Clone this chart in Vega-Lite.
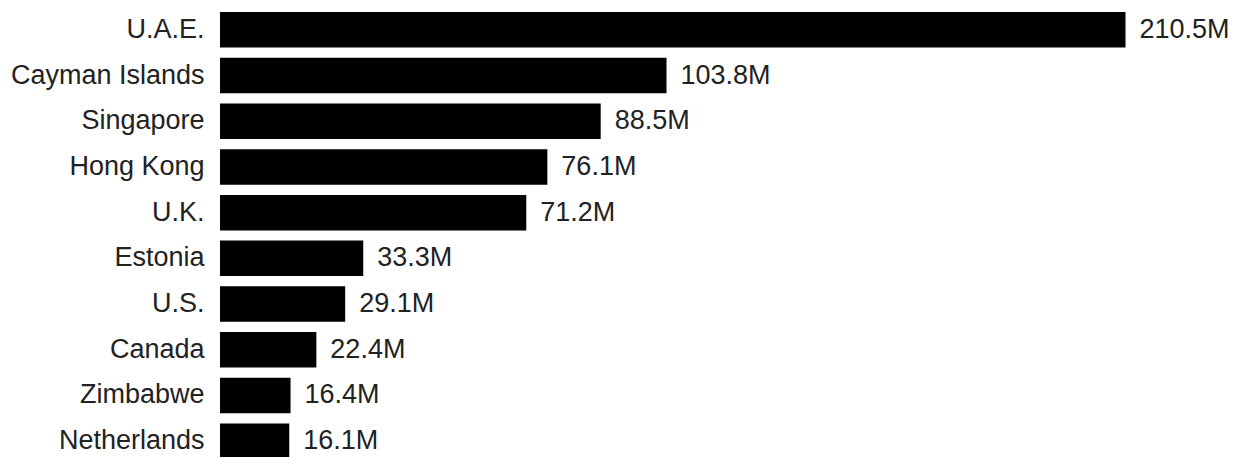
{
  "$schema": "https://vega.github.io/schema/vega-lite/v6.json",
  "autosize": {"type": "none"},
  "padding": {"left": 220, "top": 7, "right": 117, "bottom": 0},
  "width": 905.5,
  "height": 457,
  "background": "white",
  "config": {"view": {"stroke": null}, "font": "Liberation Sans"},
  "data": {
    "values": [
      {"country": "U.A.E.", "value": 210.5, "label": "210.5M"},
      {"country": "Cayman Islands", "value": 103.8, "label": "103.8M"},
      {"country": "Singapore", "value": 88.5, "label": "88.5M"},
      {"country": "Hong Kong", "value": 76.1, "label": "76.1M"},
      {"country": "U.K.", "value": 71.2, "label": "71.2M"},
      {"country": "Estonia", "value": 33.3, "label": "33.3M"},
      {"country": "U.S.", "value": 29.1, "label": "29.1M"},
      {"country": "Canada", "value": 22.4, "label": "22.4M"},
      {"country": "Zimbabwe", "value": 16.4, "label": "16.4M"},
      {"country": "Netherlands", "value": 16.1, "label": "16.1M"}
    ]
  },
  "encoding": {
    "y": {
      "field": "country",
      "type": "nominal",
      "sort": null,
      "scale": {"paddingInner": 0.223, "paddingOuter": 0.1115},
      "axis": {
        "title": null,
        "ticks": false,
        "domain": false,
        "labelPadding": 16,
        "labelFontSize": 27,
        "labelColor": "#222222",
        "labelFont": "Liberation Sans",
        "labelLimit": 400
      }
    },
    "x": {
      "field": "value",
      "type": "quantitative",
      "scale": {"domain": [0, 210.5], "nice": false},
      "axis": null
    }
  },
  "layer": [
    {"mark": {"type": "bar", "color": "#000000"}},
    {
      "mark": {"type": "text", "align": "left", "baseline": "middle", "dx": 14, "fontSize": 27, "color": "#222222", "font": "Liberation Sans"},
      "encoding": {"text": {"field": "label"}}
    }
  ]
}
